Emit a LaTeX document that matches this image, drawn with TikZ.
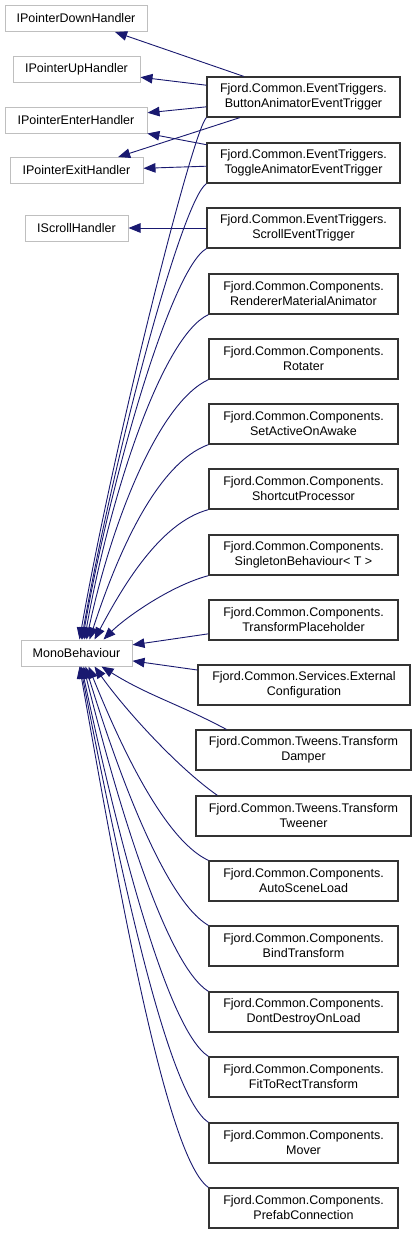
\documentclass[tikz,border=0pt]{standalone}
\usepackage{fontspec}
\setmainfont{Liberation Sans}
\usepackage{tikz}
\usetikzlibrary{arrows.meta}

\definecolor{edgeblue}{HTML}{191970}
\definecolor{basegray}{HTML}{BFBFBF}

\begin{document}
\begin{tikzpicture}[x=1pt,y=1pt,
        font=\fontsize{12.5}{15}\selectfont,
        base/.style={draw=basegray, line width=1pt, minimum height=26pt, inner xsep=2pt, inner ysep=0pt},
        cls/.style={draw=black!80, line width=1.3pt, minimum height=40pt, minimum width=189pt, align=center, inner xsep=2pt, inner ysep=0pt},
        edge/.style={draw=edgeblue, line width=0.9pt, -{Triangle[length=12pt,width=9.5pt]}}]
        \fill[white] (0,0) rectangle (417,-1234);
        \useasboundingbox (0,0) rectangle (417,-1234);

        \node (Down)[base, minimum width=142pt] at (76,-18.5) {IPointerDownHandler};
        \node (Up)[base, minimum width=127pt] at (76.5,-69.5) {IPointerUpHandler};
        \node (Enter)[base, minimum width=142pt] at (76,-120) {IPointerEnterHandler};
        \node (Exit)[base, minimum width=133pt] at (76.5,-170.5) {IPointerExitHandler};
        \node (ScrollH)[base, minimum width=103pt] at (76.5,-228) {IScrollHandler};
        \node (Mono)[base, minimum width=111pt] at (76.5,-653) {MonoBehaviour};

        \node (Button)[cls, minimum width=193pt] at (303.5,-97) {Fjord.Common.EventTriggers.\\ButtonAnimatorEventTrigger};
        \node (Toggle)[cls, minimum width=193pt] at (303.5,-163) {Fjord.Common.EventTriggers.\\ToggleAnimatorEventTrigger};
        \node (Scroll)[cls, minimum width=193pt] at (303.5,-228) {Fjord.Common.EventTriggers.\\ScrollEventTrigger};
        \node (Renderer)[cls] at (303.5,-294) {Fjord.Common.Components.\\RendererMaterialAnimator};
        \node (Rotater)[cls] at (303.5,-359) {Fjord.Common.Components.\\Rotater};
        \node (SetActive)[cls] at (303.5,-424) {Fjord.Common.Components.\\SetActiveOnAwake};
        \node (Shortcut)[cls] at (303.5,-489) {Fjord.Common.Components.\\ShortcutProcessor};
        \node (Singleton)[cls] at (303.5,-555) {Fjord.Common.Components.\\SingletonBehaviour< T >};
        \node (Placeholder)[cls] at (303.5,-620) {Fjord.Common.Components.\\TransformPlaceholder};
        \node (External)[cls, minimum width=212pt] at (304,-685) {Fjord.Common.Services.External\\Configuration};
        \node (Damper)[cls, minimum width=215pt] at (303.5,-750) {Fjord.Common.Tweens.Transform\\Damper};
        \node (Tweener)[cls, minimum width=215pt] at (303.5,-816) {Fjord.Common.Tweens.Transform\\Tweener};
        \node (AutoScene)[cls] at (303.5,-881) {Fjord.Common.Components.\\AutoSceneLoad};
        \node (Bind)[cls] at (303.5,-946) {Fjord.Common.Components.\\BindTransform};
        \node (DontDestroy)[cls] at (303.5,-1012) {Fjord.Common.Components.\\DontDestroyOnLoad};
        \node (FitToRect)[cls] at (303.5,-1077) {Fjord.Common.Components.\\FitToRectTransform};
        \node (Mover)[cls] at (303.5,-1143) {Fjord.Common.Components.\\Mover};
        \node (Prefab)[cls] at (303.5,-1208) {Fjord.Common.Components.\\PrefabConnection};

        % interfaces
        \draw [edge] (Button) -- (Down);
        \draw [edge] (Button) -- (Up);
        \draw [edge] (Button) -- (Enter);
        \draw [edge] (Button) -- (Exit);
        \draw [edge] (Toggle) -- (Enter);
        \draw [edge] (Toggle) -- (Exit);
        \draw [edge] (Scroll) -- (ScrollH);

        % MonoBehaviour, from above
        \draw [edge] (Button.south west) to[out=225,in=80,out distance=20,in distance=200] ([xshift=3pt]Mono.north);
        \draw [edge] (Toggle.south west) to[out=215,in=80,out distance=30,in distance=190] ([xshift=5pt]Mono.north);
        \draw [edge] (Scroll.south west) to[out=210,in=80,out distance=40,in distance=170] ([xshift=6pt]Mono.north);
        \draw [edge] (Renderer.south west) to[out=205,in=80,out distance=50,in distance=150] ([xshift=8pt]Mono.north);
        \draw [edge] (Rotater.south west) to[out=205,in=78,out distance=55,in distance=120] ([xshift=10pt]Mono.north);
        \draw [edge] (SetActive.south west) to[out=200,in=72,out distance=55,in distance=90] ([xshift=13pt]Mono.north);
        \draw [edge] (Shortcut.south west) to[out=195,in=62,out distance=50,in distance=60] ([xshift=18pt]Mono.north);
        \draw [edge] (Singleton.south west) to[out=195,in=45,out distance=40,in distance=30] ([xshift=27pt]Mono.north);
        \draw [edge] (Placeholder) -- (Mono);
        \draw [edge] (External) -- (Mono);

        % MonoBehaviour, from below
        \draw [edge] ([xshift=31pt]Damper.north west) to[out=152,in=-32] ([xshift=25pt]Mono.south);
        \draw [edge] ([xshift=22pt]Tweener.north west) to[out=145,in=-55,out distance=50,in distance=50] ([xshift=18pt]Mono.south);
        \draw [edge] (AutoScene.north west) to[out=155,in=-68,out distance=50,in distance=80] ([xshift=12pt]Mono.south);
        \draw [edge] (Bind.north west) to[out=150,in=-73,out distance=50,in distance=110] ([xshift=9pt]Mono.south);
        \draw [edge] (DontDestroy.north west) to[out=148,in=-76,out distance=50,in distance=140] ([xshift=7pt]Mono.south);
        \draw [edge] (FitToRect.north west) to[out=147,in=-78,out distance=50,in distance=170] ([xshift=5pt]Mono.south);
        \draw [edge] (Mover.north west) to[out=146,in=-79,out distance=50,in distance=200] ([xshift=4pt]Mono.south);
        \draw [edge] (Prefab.north west) to[out=145,in=-80,out distance=50,in distance=240] ([xshift=3pt]Mono.south);
    \end{tikzpicture}
\end{document}
